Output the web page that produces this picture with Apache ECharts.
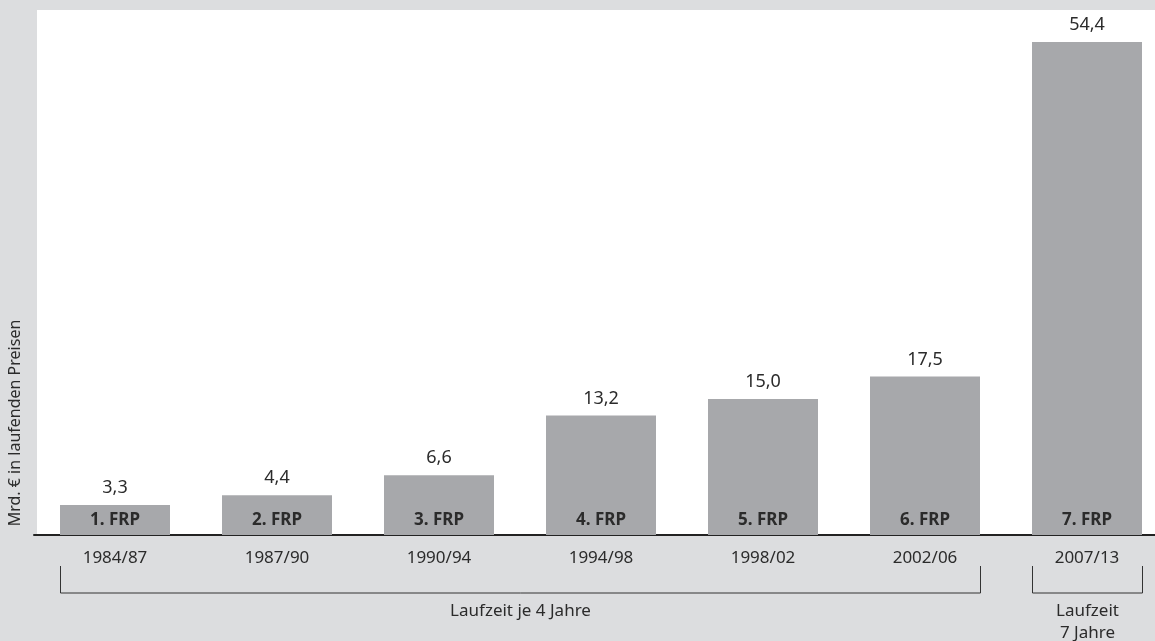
<!DOCTYPE html>
<html>
<head>
<meta charset="utf-8">
<script src="https://cdn.jsdelivr.net/npm/echarts@6/dist/echarts.min.js"></script>
<style>
html,body{margin:0;padding:0;background:#dcdddf;}
#chart{width:1155px;height:641px;}
</style>
</head>
<body>
<div id="chart"></div>
<script>
const categories = ['1984/87', '1987/90', '1990/94', '1994/98', '1998/02', '2002/06', '2007/13'];
const programmes = ['1. FRP', '2. FRP', '3. FRP', '4. FRP', '5. FRP', '6. FRP', '7. FRP'];
const values = [3.3, 4.4, 6.6, 13.2, 15.0, 17.5, 54.4];
const groupLabels = ['Laufzeit je 4 Jahre', 'Laufzeit\n7 Jahre'];
const groupRanges = [[0, 5], [6, 6]];
const yAxisTitle = 'Mrd. € in laufenden Preisen';

(function () {
const FONT = '"Noto Sans", "Open Sans", sans-serif';
const TEXT = '#2b2b2b';
const BAR_W = 110;

const chart = echarts.init(document.getElementById('chart'), null, {renderer: 'canvas'});

const option = {
  backgroundColor: '#dcdddf',
  animation: false,
  textStyle: {fontFamily: FONT},
  grid: {left: 34, width: 1134, top: 42, bottom: 106, containLabel: false, outerBoundsMode: 'none'},
  xAxis: {
    type: 'category',
    data: categories,
    axisLine: {lineStyle: {color: '#222', width: 2}},
    axisTick: {show: false},
    axisLabel: {fontSize: 17, color: TEXT, margin: 15, fontFamily: FONT}
  },
  yAxis: {
    type: 'value', min: 0, max: 54.4, show: false,
    splitLine: {show: false}
  },
  series: [
    {
      type: 'bar',
      data: values,
      barWidth: BAR_W,
      itemStyle: {color: '#a7a8ab'},
      label: {
        show: true, position: 'top', distance: 8,
        fontSize: 18, color: TEXT, fontFamily: FONT,
        formatter: p => p.value.toFixed(1).replace('.', ',')
      }
    },
    {
      type: 'bar',
      data: values,
      barWidth: BAR_W,
      barGap: '-100%',
      silent: true,
      itemStyle: {color: 'rgba(0,0,0,0)'},
      label: {
        show: true, position: 'insideBottom', distance: 6,
        fontSize: 17, fontWeight: 'bold', color: TEXT, fontFamily: FONT,
        formatter: p => programmes[p.dataIndex]
      }
    }
  ]
};
chart.setOption(option);

const cx = i => chart.convertToPixel({xAxisIndex: 0}, categories[i]);
const axisY = chart.convertToPixel({yAxisIndex: 0}, 0);
const elements = [
  {type: 'rect', z: -100, shape: {x: 37, y: 10, width: 1118, height: axisY - 10}, style: {fill: '#ffffff'}},
  {type: 'text', x: 15, y: 423, rotation: Math.PI / 2,
   style: {text: yAxisTitle, fill: TEXT, font: '16px ' + FONT, align: 'center', verticalAlign: 'middle'}}
];
const yTop = axisY + 31, yBot = axisY + 58;
groupRanges.forEach((r, k) => {
  const x1 = Math.round(cx(r[0]) - BAR_W / 2) + 0.5;
  const x2 = Math.round(cx(r[1]) + BAR_W / 2) + 0.5;
  elements.push({type: 'polyline', shape: {points: [[x1, yTop], [x1, yBot], [x2, yBot], [x2, yTop]]},
    style: {stroke: '#333', lineWidth: 1, fill: null}});
  elements.push({type: 'text', x: (x1 + x2) / 2, y: yBot + 7,
    style: {text: groupLabels[k], fill: TEXT, font: '17px ' + FONT, align: 'center', verticalAlign: 'top', lineHeight: 22}});
});
chart.setOption({graphic: {elements: elements}});
})();
</script>
</body>
</html>
